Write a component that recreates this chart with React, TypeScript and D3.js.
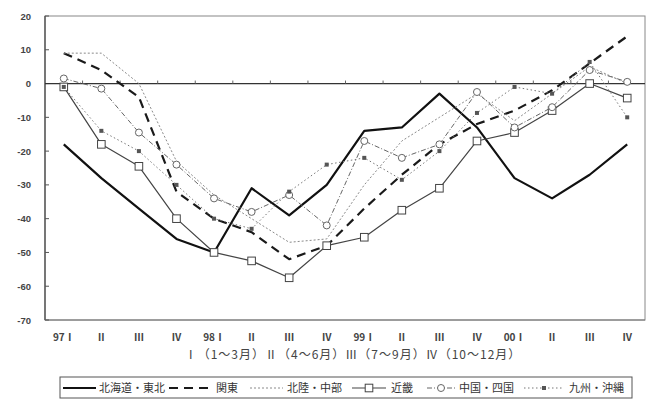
import React from "react";
import * as d3 from "d3";

// Quarterly categories (1997 Q1 – 2000 Q4)
const categories = [
  "97Ⅰ", "Ⅱ", "Ⅲ", "Ⅳ",
  "98Ⅰ", "Ⅱ ", "Ⅲ ", "Ⅳ ",
  "99Ⅰ", "Ⅱ  ", "Ⅲ  ", "Ⅳ  ",
  "00Ⅰ", "Ⅱ   ", "Ⅲ   ", "Ⅳ   ",
];

const yTicks = [20, 10, 0, -10, -20, -30, -40, -50, -60, -70];

const hokkaidoTohoku = [-18, -28, -37, -46, -50, -31, -39, -30, -14, -13, -3, -13, -28, -34, -27, -18];
const kanto = [9, 4, -4, -32, -40, -44, -52, -48, -37, -27, -18, -12, -8, -2, 6, 14];
const hokurikuChubu = [9, 9, 0, -23, -33, -40, -47, -46, -30, -17, -10, -3, -11, -3, 5, 0];
const kinki = [-1, -18, -24.5, -40, -50, -52.5, -57.5, -48, -45.5, -37.5, -31, -17, -14.5, -8, 0, -4.3];
const chugokuShikoku = [1.5, -1.5, -14.5, -24, -34, -38, -33, -42, -17, -22, -18, -2.5, -13, -7, 4, 0.5];
const kyushuOkinawa = [-1, -14, -20, -30, -40, -43, -32, -24, -22, -28.5, -20, -8.7, -1, -3, 6.4, -10];

const periodNote = "Ⅰ（1～3月）Ⅱ（4～6月）Ⅲ（7～9月）Ⅳ（10～12月）";

type Marker = "none" | "square" | "circle" | "dot";
interface Series {
  name: string;
  values: number[];
  stroke: string;
  width: number;
  dash: string;
  marker: Marker;
}

const series: Series[] = [
  { name: "北海道・東北", values: hokkaidoTohoku, stroke: "#111", width: 2.2, dash: "", marker: "none" },
  { name: "関東", values: kanto, stroke: "#1a1a1a", width: 2.2, dash: "9,6", marker: "none" },
  { name: "北陸・中部", values: hokurikuChubu, stroke: "#8a8a8a", width: 1, dash: "2,2", marker: "none" },
  { name: "近畿", values: kinki, stroke: "#444", width: 1.2, dash: "", marker: "square" },
  { name: "中国・四国", values: chugokuShikoku, stroke: "#666", width: 1, dash: "5,2,1,2", marker: "circle" },
  { name: "九州・沖縄", values: kyushuOkinawa, stroke: "#777", width: 1, dash: "1.5,2.5", marker: "dot" },
];

const W = 646;
const H = 401;
const plot = { left: 45, right: 646, top: 16, bottom: 320 };

const font = "'Liberation Sans', 'Noto Sans CJK JP', sans-serif";
const cjk = "'Noto Sans CJK JP', sans-serif";

function MarkerShape({ kind, x, y, color }: { kind: Marker; x: number; y: number; color: string }) {
  if (kind === "square")
    return <rect x={x - 3.8} y={y - 3.8} width={7.6} height={7.6} fill="#fff" stroke={color} strokeWidth={1} />;
  if (kind === "circle")
    return <circle cx={x} cy={y} r={3.5} fill="#fff" stroke={color} strokeWidth={1} />;
  if (kind === "dot")
    return <rect x={x - 2} y={y - 2} width={4} height={4} fill="#555" />;
  return null;
}

export default function App() {
  const band = d3.scaleBand<string>().domain(categories).range([plot.left, plot.right]);
  const x = (i: number) => (band(categories[i]) ?? 0) + band.bandwidth() / 2;
  const y = d3.scaleLinear().domain([-70, 20]).range([plot.bottom, plot.top]);

  const line = d3
    .line<number>()
    .x((_, i) => x(i))
    .y((d) => y(d));

  const y0 = y(0);

  // legend layout: [sample start, sample end, text start]
  const legendSlots = [
    [63, 96, 99],
    [169, 210, 216],
    [250, 283, 287],
    [352, 386, 391],
    [427, 455, 459],
    [524, 564, 569],
  ];

  return (
    <svg
      width={W}
      height={H}
      style={{ position: "absolute", left: 0, top: 0, background: "#fff" }}
      fontFamily={font}
    >
      <rect x={0} y={0} width={W} height={H} fill="#fff" />

      {/* plot frame */}
      <rect
        x={plot.left}
        y={plot.top}
        width={plot.right - plot.left - 1}
        height={plot.bottom - plot.top}
        fill="none"
        stroke="#888"
        strokeWidth={1}
      />
      <line x1={plot.left} x2={plot.left} y1={plot.top} y2={plot.bottom} stroke="#444" strokeWidth={1.2} />
      <line x1={plot.left} x2={plot.right - 1} y1={plot.bottom} y2={plot.bottom} stroke="#777" strokeWidth={1.2} />

      {/* value axis ticks and labels */}
      {yTicks.map((t) => (
        <g key={t}>
          <line x1={plot.left} x2={plot.left + 4} y1={y(t)} y2={y(t)} stroke="#555" />
          <text x={31} y={y(t) + 3.5} fontSize={9.5} textAnchor="end" fill="#444" fontWeight="bold">
            {t}
          </text>
        </g>
      ))}

      {/* category axis at zero */}
      <line x1={plot.left} x2={plot.right - 1} y1={y0} y2={y0} stroke="#333" strokeWidth={1.2} />
      {categories.map((c, i) =>
        i === 0 ? null : (
          <line key={"t" + i} x1={band(c)!} x2={band(c)!} y1={y0 - 3} y2={y0} stroke="#666" />
        )
      )}

      {/* category labels */}
      {categories.map((c, i) => (
        <text
          key={"c" + i}
          x={x(i)}
          y={341}
          fontSize={10}
          textAnchor="middle"
          fill="#444"
          fontWeight="bold"
          fontFamily={cjk}
        >
          {c.trim()}
        </text>
      ))}
      <text x={353} y={359} fontSize={12} letterSpacing={1} textAnchor="middle" fill="#444" fontFamily={cjk}>
        {periodNote}
      </text>

      {/* series lines */}
      {series.map((s) => (
        <path
          key={s.name}
          d={line(s.values) ?? ""}
          fill="none"
          stroke={s.stroke}
          strokeWidth={s.width}
          strokeDasharray={s.dash}
          strokeLinejoin="round"
        />
      ))}
      {series.map((s) =>
        s.values.map((v, i) => (
          <MarkerShape key={s.name + i} kind={s.marker} x={x(i)} y={y(v)} color={s.stroke} />
        ))
      )}

      {/* legend */}
      <rect x={60} y={377} width={572} height={21} fill="#fff" stroke="#555" strokeWidth={1} />
      {series.map((s, k) => {
        const [a, b, t] = legendSlots[k];
        const ly = 388;
        return (
          <g key={"lg" + k}>
            <line x1={a} x2={b} y1={ly} y2={ly} stroke={s.stroke} strokeWidth={s.width} strokeDasharray={s.dash} />
            <MarkerShape kind={s.marker} x={(a + b) / 2} y={ly} color={s.stroke} />
            <text x={t} y={392} fontSize={11} fill="#333" fontFamily={cjk}>
              {s.name}
            </text>
          </g>
        );
      })}
    </svg>
  );
}
